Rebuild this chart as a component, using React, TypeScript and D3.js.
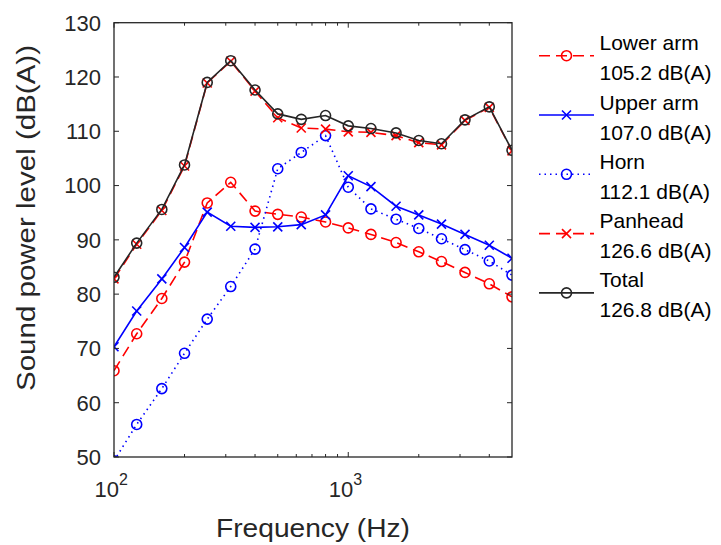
import React from "react";
import * as d3 from "d3";

const freqs = [100, 125, 160, 200, 250, 315, 400, 500, 630, 800, 1000, 1250, 1600, 2000, 2500, 3150, 4000, 5000];
const lowerArm = [65.9, 72.7, 79.2, 85.9, 96.8, 100.6, 95.3, 94.7, 94.2, 93.3, 92.2, 91.0, 89.5, 87.8, 86.0, 84.0, 81.9, 79.5];
const upperArm = [70.3, 76.9, 82.8, 88.6, 95.1, 92.5, 92.3, 92.4, 92.8, 94.6, 101.8, 99.8, 96.2, 94.6, 92.9, 91.0, 89.0, 86.6];
const horn = [49.3, 56.0, 62.6, 69.1, 75.4, 81.4, 88.3, 103.1, 106.1, 109.2, 99.7, 95.7, 93.8, 92.1, 90.2, 88.2, 86.1, 83.5];
const panhead = [82.8, 89.2, 95.4, 103.6, 118.9, 122.9, 117.4, 112.5, 110.6, 110.4, 109.9, 109.8, 109.2, 107.9, 107.5, 112.0, 114.4, 106.4];
const total = [83.1, 89.4, 95.6, 103.8, 119.0, 123.0, 117.6, 113.2, 112.2, 112.9, 111.0, 110.5, 109.7, 108.3, 107.7, 112.1, 114.5, 106.5];
const yTicks = [50, 60, 70, 80, 90, 100, 110, 120, 130];
const xMajor = [100, 1000];
const xMinor = [200, 300, 400, 500, 600, 700, 800, 900, 2000, 3000, 4000];
const legendNames = ["Lower arm", "Upper arm", "Horn", "Panhead", "Total"];
const legendLevels = ["105.2 dB(A)", "107.0 dB(A)", "112.1 dB(A)", "126.6 dB(A)", "126.8 dB(A)"];

type Series = { values: number[]; color: string; dash: string | null; marker: "o" | "x" };
const series: Series[] = [
  { values: lowerArm, color: "#ff0000", dash: "11,6", marker: "o" },
  { values: upperArm, color: "#0000ff", dash: null, marker: "x" },
  { values: horn, color: "#0000ff", dash: "1.5,4", marker: "o" },
  { values: panhead, color: "#ff0000", dash: "11,6", marker: "x" },
  { values: total, color: "#262626", dash: null, marker: "o" },
];

const FONT = "'Liberation Sans', Arial, Helvetica, sans-serif";
const L = 114, R = 512, T = 22.7, B = 457;
const AX = "#262626";

function Marker({ type, x, y, color }: { type: "o" | "x"; x: number; y: number; color: string }) {
  if (type === "o") return <circle cx={x} cy={y} r={5} fill="none" stroke={color} strokeWidth={1.6} />;
  const s = 4.5;
  return (
    <g stroke={color} strokeWidth={1.6}>
      <line x1={x - s} y1={y - s} x2={x + s} y2={y + s} />
      <line x1={x - s} y1={y + s} x2={x + s} y2={y - s} />
    </g>
  );
}

export default function App() {
  const x = d3.scaleLog().domain([100, 5000]).range([L, R]);
  const y = d3.scaleLinear().domain([50, 130]).range([B, T]);
  const line = d3.line<number>().x((_, i) => x(freqs[i])).y((v) => y(v));

  return (
    <div style={{ position: "absolute", left: 0, top: 0 }}>
      <svg width={721} height={545} style={{ display: "block", background: "#fff" }} fontFamily={FONT}>
        <defs>
          <clipPath id="plot">
            <rect x={L} y={T} width={R - L} height={B - T} />
          </clipPath>
        </defs>
        <g clipPath="url(#plot)">
          {series.map((s, si) => (
            <g key={si}>
              <path d={line(s.values) || ""} fill="none" stroke={s.color} strokeWidth={1.6} strokeDasharray={s.dash || undefined} />
              {s.values.map((v, i) => (
                <Marker key={i} type={s.marker} x={x(freqs[i])} y={y(v)} color={s.color} />
              ))}
            </g>
          ))}
        </g>
        <rect x={L} y={T} width={R - L} height={B - T} fill="none" stroke={AX} strokeWidth={1.3} />
        {yTicks.map((t) => (
          <g key={t}>
            <line x1={L} x2={L + 5} y1={y(t)} y2={y(t)} stroke={AX} strokeWidth={1} />
            <line x1={R} x2={R - 5} y1={y(t)} y2={y(t)} stroke={AX} strokeWidth={1} />
            <text x={101} y={y(t)} dy="0.36em" textAnchor="end" fontSize={22} fill="#262626">{t}</text>
          </g>
        ))}
        {xMajor.map((t) => (
          <g key={t}>
            <line x1={x(t)} x2={x(t)} y1={B} y2={B - 5} stroke={AX} strokeWidth={1} />
            <line x1={x(t)} x2={x(t)} y1={T} y2={T + 5} stroke={AX} strokeWidth={1} />
            <text x={x(t) - 19.5} y={497} fontSize={22} fill="#262626">
              10
              <tspan dy={-12} fontSize={16}>{Math.round(Math.log10(t))}</tspan>
            </text>
          </g>
        ))}
        {xMinor.map((t) => (
          <g key={t}>
            <line x1={x(t)} x2={x(t)} y1={B} y2={B - 3} stroke={AX} strokeWidth={1} />
            <line x1={x(t)} x2={x(t)} y1={T} y2={T + 3} stroke={AX} strokeWidth={1} />
          </g>
        ))}
        <text x={(L + R) / 2} y={537} textAnchor="middle" fontSize={25} fill="#262626" textLength={194} lengthAdjust="spacingAndGlyphs">Frequency (Hz)</text>
        <text transform={`translate(35,218) rotate(-90)`} textAnchor="middle" fontSize={25} fill="#262626" textLength={346} lengthAdjust="spacingAndGlyphs">Sound power level (dB(A))</text>
        {series.map((s, i) => {
          const ly = 55.7 + i * 59.3;
          return (
            <g key={i}>
              <line x1={539} x2={594} y1={ly} y2={ly} stroke={s.color} strokeWidth={1.6} strokeDasharray={s.dash || undefined} />
              <Marker type={s.marker} x={566.5} y={ly} color={s.color} />
              <text x={599.5} y={ly - 5.5} fontSize={21} fill="#000">{legendNames[i]}</text>
              <text x={599.5} y={ly + 24.5} fontSize={21} fill="#000">{legendLevels[i]}</text>
            </g>
          );
        })}
      </svg>
    </div>
  );
}
